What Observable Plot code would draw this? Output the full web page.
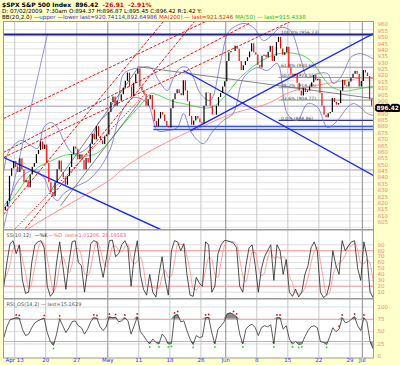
<!DOCTYPE html>
<html><head><meta charset="utf-8">
<script src="https://cdn.jsdelivr.net/npm/d3@7"></script>
<script src="https://cdn.jsdelivr.net/npm/@observablehq/plot@0.6"></script>
<style>
html,body{margin:0;padding:0;background:#FFFFCC;}
#wrap{position:relative;width:400px;height:365px;overflow:hidden;background:#FFFFCC;font-family:"DejaVu Sans",sans-serif;}
.hdr{position:absolute;left:2px;font-size:5.6px;line-height:7px;white-space:nowrap;color:#000;}
.panel{position:absolute;left:0;}
</style></head>
<body><div id="wrap">
<div class="hdr" style="top:1px;font-weight:bold;font-size:6px;">$SPX S&amp;P 500 Index &nbsp;896.42 &nbsp;<span style="color:#e00">-26.91 &nbsp;-2.91%</span></div>
<div class="hdr" style="top:8px;">D: 07/02/2009 &nbsp;7:30am O:894.37 H:896.87 L:895.45 C:896.42 R:1.42 Y:</div>
<div class="hdr" style="top:14px;">BB(20,2.0) <span style="color:#3333cc">&mdash;upper &mdash;lower last=920.74114,892.64986</span> <span style="color:#ee2222">MA(200) &mdash; last=921.5246</span> <span style="color:#22bb22">MA(50) &mdash; last=915.4338</span></div>
</div>
<script>
// ---------- DATA ----------
// trading-day index: Apr 8 2009 = 0 ... Jul 2 2009 = 59
const tickDays   = [2, 7, 12, 17, 22, 27, 32, 36, 41, 46, 51, 56, 58];
const tickLabels = ["Apr 13","20","27","May","11","18","26","Jun","8","15","22","29","Jul"];
const monthTicks = [17, 36, 58];
const priceTicks = d3.range(805, 961, 5);
const hiddenTicks = [895];

// intraday closes, 3 per trading day
const firstOpen = 816;
const closes = [
 818,821,825.2, 845,851,856.6, 852,848,858.7, 850,840,841.5, 836,846,852.1,
 855,862,865.3, 872,866,869.6, 855,840,832.4, 829,840,850.1, 857,848,843.6,
 838,845,851.9, 862,868,866.2, 858,862,857.5, 850,859,855.2, 870,878,873.6,
 884,876,872.8, 870,876,877.5, 895,903,907.2, 900,904,903.8, 909,914,919.5,
 926,915,907.4, 918,925,929.2, 915,912,909.2, 900,905,908.4, 897,888,883.9,
 890,895,893.1, 888,884,882.9, 898,905,909.7, 913,910,908.1, 920,912,903.5,
 892,885,888.3, 892,890,887.0, 886,900,910.3, 910,900,893.1, 893,900,906.8,
 910,915,919.1, 935,942,942.9, 943,947,944.7, 935,928,931.8, 935,938,942.5,
 949,942,940.1, 932,930,939.1, 940,938,942.4, 947,935,939.2, 950,954,944.9,
 940,942,946.2, 930,925,923.7, 925,918,912.0, 908,914,910.7, 912,915,918.4,
 924,920,921.2, 910,900,893.0, 891,894,895.1, 906,903,900.9, 902,912,920.3,
 916,915,918.9, 922,925,927.2, 925,915,919.3, 928,926,923.3, 905,900,896.42
];

// overlays: [dayIndex, price]
const ma50 = [[0.3,820],[2.5,833],[5,849],[7.8,857],[10.5,862],[13,861],[15.8,865],[19,883],[22.8,904],[24.4,910],[27.1,904.5],[29.2,902],[31.9,899],[34.7,902],[37.9,920],[41.1,933.5],[44.3,941],[47.5,941],[50.1,933.5],[52.4,918],[54.5,912.3],[56.1,912.3],[59.3,915.4],[59.8,915.4]];
const ma200 = [[3.5,800],[6.2,810],[16,838],[19.1,849.6],[23.9,865],[29.8,879.4],[31.9,883.3],[37.2,894.3],[42.7,902],[46.9,912],[53.3,918.6],[57.7,922],[59.8,921.5]];
const bbUpper = [[0.3,850],[0.9,862.9],[3.0,873.1],[4.6,869.2],[5.7,866.8],[6.7,883.3],[7.8,887.2],[8.9,883.3],[9.9,873.1],[11.5,862.9],[13.8,867.6],[15.4,886.4],[16.3,891.1],[17.5,896.6],[18.6,904.5],[19.6,925.6],[22.3,930.3],[23.9,930.3],[25.2,920.2],[26.6,912.3],[27.6,922.5],[28.7,930.3],[29.8,930.3],[30.8,922.5],[31.9,910],[33.5,904.5],[35.2,935.8],[36.3,957],[37.2,961.7],[38.9,964.9],[40.5,961.7],[42.1,951.5],[43.7,957],[44.8,961.7],[46.4,959.4],[48,938.2],[49.2,922.5],[50.8,925.6],[52.4,925.6],[53.3,917.8],[54.5,922.5],[55.6,933.5],[56.1,938.2],[57.7,941.3],[59.8,937]];
const bbLower = [[0.3,822],[0.9,826],[3.0,844.1],[5.1,849.6],[6.7,844.1],[7.8,831.5],[8.9,826],[9.9,831.5],[11.5,836.2],[13.8,841.7],[15.4,849.6],[16.3,855.8],[17.5,867.6],[19.1,894.3],[21.2,906.8],[23.4,902.1],[25.0,880.9],[26.6,880.9],[28.2,883.3],[29.2,894.3],[30.3,880.9],[31.5,873.1],[32.4,870.7],[34.0,880.9],[35.6,888.8],[37.2,894.3],[38.9,922.5],[41.1,930.3],[42.7,928],[44.3,933.5],[45.9,894.3],[47.5,888.8],[49.2,902.1],[50.8,899],[52.4,883.3],[54.0,888.8],[55.6,899],[56.6,902.1],[57.7,899],[58.8,894.3],[59.8,892.7]];

// drawn trend lines: [day1, price1, day2, price2]
const redDashed = [[0.2,815.1,26.1,967.2],[3.7,804,31.1,967.2],[0.2,890.3,33.1,967.2],[0.2,863.7,40,965.6],[0.2,859.8,46.4,966.4]];
const redDotted = [[2.1,804,23.1,910]];
const blackLines = [[7.8,833.9,21.8,929.6],[9.4,822.1,22.3,904.5],[21.8,931.1,59.8,906.0]];
const blueThick = [[0.2,859.8,25.5,803.3],[29.2,928.0,59.8,845.6],[30.3,880.9,59.8,957.0]];
const blueThin = [[0.2,804,7.3,957]];
const navyLevel = 956.23;
const blueLevels = [884.1, 881.7];
const blueLevelStart = 24.4;
const fibPct = ["100.0%","61.8%","50.0%","38.2%","23.6%","0.0%"];
const fibVal = [956.23, 930.60, 922.55, 914.49, 904.77, 888.86];
const fibStart = 44.6;
const lastPrice = 896.42;

// oscillators, 2 readings per trading day
const stochK = [20,60,92,97,75,90,30,8,10,60,90,95,97,85,20,3,10,60,95,55,15,60,95,97,60,55,10,50,92,97,95,60,35,65,97,98,70,75,90,97,85,20,70,97,40,15,5,40,10,2,40,70,30,5,80,97,95,80,92,40,5,3,35,25,20,95,90,10,20,75,90,97,97,95,93,85,20,10,55,85,90,55,10,50,70,80,90,30,90,80,40,65,10,3,15,2,10,40,55,85,95,80,10,1,5,25,80,55,40,97,80,88,95,97,50,30,95,70,10,1];
const stochD = [30,40,57,83,88,87,65,43,16,26,53,82,94,92,67,36,11,24,55,70,55,43,57,84,84,71,42,38,51,80,95,84,63,53,66,87,88,81,78,87,91,67,58,62,69,51,20,20,18,17,17,37,47,35,38,61,91,91,89,71,46,16,14,21,27,47,68,65,40,35,62,87,95,96,95,91,66,38,28,50,77,77,52,38,43,67,80,67,70,67,70,62,38,26,9,7,9,17,35,60,78,87,62,30,5,10,37,53,58,64,72,88,88,93,81,59,58,65,58,28];
const rsi = [38,60,74,76,78,77,55,42,45,58,68,72,75,77,48,30,22,45,76,62,48,58,70,72,62,58,45,55,70,78,77,60,52,60,80,78,79,70,72,78,72,45,62,80,50,42,32,25,35,28,25,45,38,25,26,82,85,70,72,52,35,24,42,38,40,78,79,48,25,55,62,70,86,88,85,80,45,25,55,62,65,58,42,58,62,60,64,25,78,78,55,62,35,25,30,24,25,40,52,60,62,58,30,28,24,40,58,50,55,78,68,70,75,80,62,52,78,70,30,15];
const rsiHighSlots = [4,5,13,18,29,30,34,36,39,43,55,56,65,66,74,75,88,89,108,109,113,116];
const rsiLowSlots  = [16,47,50,53,54,61,68,77,87,93,95,96,104];
const stochTicks = [10,20,30,40,50,60,70,80,90];
const rsiTicks = [0,25,50,75,100];

// ---------- BUILD ----------
const X_DOMAIN = [0.2, 59.8];
const bars = closes.map((c, i) => ({
  x: Math.floor(i / 3) + (i % 3 + 0.5) / 3,
  open: i === 0 ? firstOpen : closes[i - 1],
  close: c
}));
bars.forEach(b => b.up = b.close >= b.open);
const seg = a => a.map(([x1, y1, x2, y2]) => ({x1, y1, x2, y2}));
const slotX = i => 0.25 + 0.5 * i;
const oscRows = (arr) => arr.map((v, i) => ({x: slotX(i), v}));

const LABEL = "#EE8866";
const FONT = "DejaVu Sans";
const baseStyle = {background: "transparent", overflow: "visible", fontFamily: FONT, fontSize: "6px"};
const wrap = document.getElementById("wrap");

function place(svg, top) {
  const d = document.createElement("div");
  d.className = "panel";
  d.style.top = top + "px";
  d.appendChild(svg);
  wrap.appendChild(d);
}

function vGrid() {
  return [
    Plot.ruleX(tickDays.filter(d => !monthTicks.includes(d)), {stroke: "#c8c8c8", strokeWidth: 1}),
    Plot.ruleX(monthTicks, {stroke: "#8c8c8c", strokeWidth: 1})
  ];
}

// ---- price panel ----
const pricePlot = Plot.plot({
  width: 400, height: 210,
  marginLeft: 3, marginRight: 27, marginTop: 1, marginBottom: 1,
  x: {domain: X_DOMAIN, axis: null},
  y: {domain: [800, 960], range: [213.2, 9.2], axis: null},
  style: baseStyle,
  marks: [
    Plot.frame({fill: "white", stroke: null}),
    Plot.ruleY(priceTicks, {stroke: "#e4e4e4", strokeWidth: 1, clip: true}),
    Plot.ruleY([850, 900], {stroke: "#a8a8c8", strokeWidth: 1, clip: true}),
    ...vGrid(),
    // fib lines
    Plot.ruleY(fibVal.slice(1, 5), {x1: fibStart, x2: X_DOMAIN[1], stroke: "#9a9a9a", strokeWidth: 1}),
    Plot.ruleY([fibVal[5]], {x1: fibStart, x2: X_DOMAIN[1], stroke: "#333399", strokeWidth: 1.2}),
    Plot.text(fibVal, {x: fibStart + 0.3, y: d => d, text: (d, i) => `${fibPct[i]} (${d.toFixed(2)})`, textAnchor: "start", lineAnchor: "bottom", dy: -0.5, fontSize: 4.5, fill: "#444"}),
    // indicators
    Plot.line(ma200, {x: d => d[0], y: d => d[1], stroke: "#ff8080", strokeWidth: 0.9, curve: "natural", clip: true}),
    Plot.line(ma50, {x: d => d[0], y: d => d[1], stroke: "#33cc33", strokeWidth: 0.8, curve: "natural", clip: true}),
    Plot.line(bbUpper, {x: d => d[0], y: d => d[1], stroke: "#7070c8", strokeWidth: 0.8, curve: "catmull-rom", clip: true}),
    Plot.line(bbLower, {x: d => d[0], y: d => d[1], stroke: "#7070c8", strokeWidth: 0.8, curve: "catmull-rom", clip: true}),
    // drawn lines
    Plot.link(seg(blueThin), {x1: "x1", y1: "y1", x2: "x2", y2: "y2", stroke: "#7777dd", strokeWidth: 0.8, clip: true}),
    Plot.link(seg(redDashed), {x1: "x1", y1: "y1", x2: "x2", y2: "y2", stroke: "#ff1010", strokeWidth: 1, strokeDasharray: "3,1.5", clip: true}),
    Plot.link(seg(redDotted), {x1: "x1", y1: "y1", x2: "x2", y2: "y2", stroke: "#ff1010", strokeWidth: 1, strokeDasharray: "1.5,1.5", clip: true}),
    Plot.link(seg(blackLines), {x1: "x1", y1: "y1", x2: "x2", y2: "y2", stroke: "#666", strokeWidth: 0.8, clip: true}),
    Plot.ruleY(blueLevels, {x1: blueLevelStart, x2: X_DOMAIN[1], stroke: "#3355ff", strokeWidth: 1.4}),
    Plot.ruleY([navyLevel], {x1: X_DOMAIN[0], x2: X_DOMAIN[1], stroke: "#222288", strokeWidth: 2.2}),
    Plot.link(seg(blueThick), {x1: "x1", y1: "y1", x2: "x2", y2: "y2", stroke: "#1a2aff", strokeWidth: 1.4, clip: true}),
    // candles
    Plot.ruleX(bars, {x: "x", y1: "open", y2: "close", stroke: d => d.up ? "#000" : "#ff0000", strokeWidth: 1.2, clip: true}),
    Plot.frame({stroke: "#9a9a9a", strokeWidth: 1}),
    // price labels
    Plot.text(priceTicks.filter(t => !hiddenTicks.includes(t)), {x: X_DOMAIN[1], y: d => d, text: d => String(d), dx: 4, dy: -5, textAnchor: "start", fontSize: 5.5, fill: LABEL}),
    Plot.text([lastPrice], {x: X_DOMAIN[1], y: d => d, text: d => d.toFixed(2), dx: 3, dy: -2.5, textAnchor: "start", fontSize: 5.8, fontWeight: "bold", fill: "white", stroke: "black", strokeWidth: 4, paintOrder: "stroke"})
  ]
});
place(pricePlot, 20);

// ---- stochastic panel ----
const stochPlot = Plot.plot({
  width: 400, height: 70,
  marginLeft: 3, marginRight: 27, marginTop: 0.5, marginBottom: 1,
  x: {domain: X_DOMAIN, axis: null},
  y: {domain: [0, 100], range: [68.6, 9.4], axis: null},
  style: baseStyle,
  marks: [
    Plot.frame({fill: "white", stroke: null}),
    Plot.ruleY(stochTicks, {stroke: "#dcdcdc"}),
    ...vGrid(),
    Plot.ruleY([20, 80], {stroke: "#ff9a9a", strokeWidth: 1}),
    Plot.line(oscRows(stochD), {x: "x", y: "v", stroke: "#ff8a8a", strokeWidth: 0.8, curve: "monotone-x", clip: true}),
    Plot.line(oscRows(stochK), {x: "x", y: "v", stroke: "#222", strokeWidth: 0.8, clip: true}),
    Plot.frame({stroke: "#9a9a9a"}),
    Plot.text(["SS(10,12)"], {frameAnchor: "top-left", dx: 3, dy: 3, text: d => d, fontSize: 5, fill: "#555"}),
    Plot.text(["\u2014%K"], {frameAnchor: "top-left", dx: 31, dy: 3, text: d => d, fontSize: 5, fill: "#222"}),
    Plot.text(["\u2014%D  last=1.01206, 28.19183"], {frameAnchor: "top-left", dx: 45, dy: 3, text: d => d, fontSize: 5, fill: "#ee6666"}),
    Plot.text(stochTicks, {x: X_DOMAIN[1], y: d => d, text: d => String(d), dx: 4, textAnchor: "start", fontSize: 5.5, fill: LABEL})
  ]
});
place(stochPlot, 229);

// ---- RSI panel ----
const rsiRows = oscRows(rsi);
const rsiPlot = Plot.plot({
  width: 400, height: 67,
  marginLeft: 3, marginRight: 27, marginTop: 0.5, marginBottom: 7.5,
  x: {domain: X_DOMAIN, axis: null},
  y: {domain: [0, 100], range: [57.8, 8.5], axis: null},
  style: baseStyle,
  marks: [
    Plot.frame({fill: "white", stroke: null}),
    Plot.ruleY([25, 50, 75, 100], {stroke: "#dcdcdc"}),
    ...vGrid(),
    Plot.areaY(rsiRows, {x: "x", y1: 75, y2: d => Math.max(75, d.v), fill: "#8a8a8a", clip: true}),
    Plot.areaY(rsiRows, {x: "x", y1: 30, y2: d => Math.min(30, d.v), fill: "#8a8a8a", clip: true}),
    Plot.ruleY([30, 75], {stroke: "#ff9a9a", strokeWidth: 1}),
    Plot.line(rsiRows, {x: "x", y: "v", stroke: "#333", strokeWidth: 0.8, clip: true}),
    Plot.dot(rsiHighSlots, {x: i => slotX(i), y: i => rsi[i] + 6, r: 0.9, fill: "#ff0000", stroke: null}),
    Plot.dot(rsiLowSlots, {x: i => slotX(i), y: i => rsi[i] - 6, r: 0.9, fill: "#22cc22", stroke: null}),
    Plot.frame({stroke: "#9a9a9a"}),
    Plot.text(["RSI_OS(14,2) \u2014 last=15.1629"], {frameAnchor: "top-left", dx: 3, dy: 3, text: d => d, fontSize: 5, fill: "#555"}),
    Plot.text(rsiTicks, {x: X_DOMAIN[1], y: d => d, text: d => String(d), dx: 4, textAnchor: "start", fontSize: 5.5, fill: LABEL}),
    Plot.text(tickDays, {x: d => d, frameAnchor: "bottom", dy: 4, text: (d, i) => tickLabels[i], fontSize: 5.5, fill: "#2a2aff", fontWeight: (d) => monthTicks.includes(d) ? "bold" : "normal"})
  ]
});
place(rsiPlot, 298);
</script>
</body></html>
